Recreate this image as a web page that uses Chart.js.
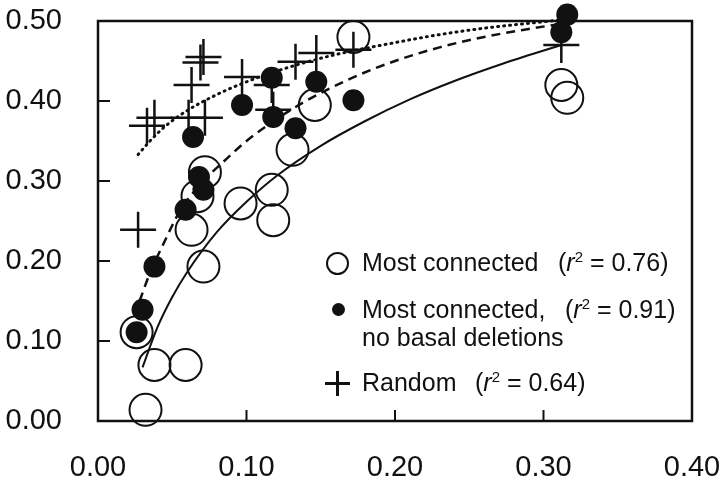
<!DOCTYPE html>
<html>
<head>
<meta charset="utf-8">
<script src="https://cdn.jsdelivr.net/npm/chart.js@4.4.1/dist/chart.umd.min.js"></script>
<style>
  html, body { margin: 0; padding: 0; background: #fff; }
  #wrap { position: relative; width: 722px; height: 487px; }
  #legend { position: absolute; left: 0; top: 0; width: 722px; height: 487px; pointer-events: none;
    font-family: "Liberation Sans", Arial, Helvetica, sans-serif; font-size: 25px; color: #111; }
  #legend .t { position: absolute; line-height: 25px; white-space: nowrap; }
  #legend i { font-style: italic; }
  #legend sup { font-size: 15px; vertical-align: 9px; line-height: 0; }
  .ic-open { position: absolute; width: 19px; height: 19px; border: 2px solid #111; border-radius: 50%; }
  .ic-dot { position: absolute; width: 13px; height: 13px; background: #111; border-radius: 50%; }
  .ic-plus-h { position: absolute; width: 25px; height: 3px; background: #111; }
  .ic-plus-v { position: absolute; width: 3px; height: 25px; background: #111; }
</style>
</head>
<body>
<div id="wrap">
  <canvas id="chart" width="722" height="487"></canvas>
  <div id="legend">
    <span class="ic-open" style="left:326px; top:252px;"></span>
    <span class="t" style="left:362px; top:250px;">Most connected</span>
    <span class="t" style="left:558px; top:250px;">(<i>r</i><sup>2</sup> = 0.76)</span>

    <span class="ic-dot" style="left:332px; top:303px;"></span>
    <span class="t" style="left:362px; top:297px;">Most connected,</span>
    <span class="t" style="left:565px; top:297px;">(<i>r</i><sup>2</sup> = 0.91)</span>
    <span class="t" style="left:362px; top:325px;">no basal deletions</span>

    <span class="ic-plus-h" style="left:325px; top:382px;"></span>
    <span class="ic-plus-v" style="left:336px; top:371px;"></span>
    <span class="t" style="left:362px; top:370px;">Random</span>
    <span class="t" style="left:475px; top:370px;">(<i>r</i><sup>2</sup> = 0.64)</span>
  </div>
</div>
<script>
// valores
const openX   = [0.032, 0.026, 0.038, 0.059, 0.071, 0.063, 0.067, 0.072, 0.096, 0.117, 0.118, 0.131, 0.146, 0.172, 0.312, 0.316];
const openY   = [0.014, 0.111, 0.070, 0.070, 0.193, 0.239, 0.281, 0.311, 0.272, 0.289, 0.251, 0.339, 0.395, 0.480, 0.420, 0.404];

const filledX = [0.026, 0.030, 0.038, 0.059, 0.068, 0.071, 0.064, 0.097, 0.117, 0.118, 0.133, 0.147, 0.172, 0.316, 0.312];
const filledY = [0.111, 0.139, 0.193, 0.264, 0.305, 0.289, 0.355, 0.395, 0.429, 0.380, 0.366, 0.424, 0.401, 0.508, 0.486];

const randX   = [0.027, 0.033, 0.038, 0.061, 0.072, 0.063, 0.069, 0.071, 0.097, 0.117, 0.118, 0.133, 0.147, 0.172, 0.312];
const randY   = [0.239, 0.369, 0.379, 0.379, 0.379, 0.420, 0.448, 0.455, 0.430, 0.420, 0.389, 0.449, 0.460, 0.464, 0.470];

// curvas de ajuste (lidas ponto a ponto)
const solidX = [0.030, 0.040, 0.050, 0.060, 0.080, 0.100, 0.120, 0.150, 0.180, 0.210, 0.240, 0.270, 0.312];
const solidY = [0.067, 0.117, 0.155, 0.186, 0.236, 0.274, 0.306, 0.344, 0.375, 0.402, 0.425, 0.445, 0.470];

const dashX = [0.028, 0.035, 0.045, 0.055, 0.070, 0.085, 0.100, 0.120, 0.140, 0.170, 0.200, 0.230, 0.260, 0.290, 0.310];
const dashY = [0.150, 0.185, 0.225, 0.262, 0.298, 0.325, 0.350, 0.377, 0.400, 0.428, 0.450, 0.467, 0.480, 0.490, 0.496];

const dotX = [0.027, 0.035, 0.045, 0.060, 0.080, 0.100, 0.130, 0.160, 0.200, 0.230, 0.260, 0.310];
const dotY = [0.333, 0.350, 0.368, 0.388, 0.408, 0.424, 0.443, 0.458, 0.473, 0.483, 0.491, 0.501];

const xTicks = [0, 0.1, 0.2, 0.3, 0.4];
const yTicks = [0, 0.1, 0.2, 0.3, 0.4, 0.5];

const pts = (xs, ys) => xs.map((x, i) => ({ x: x, y: ys[i] }));
const ink = '#111';
const fontFam = '"Liberation Sans", Arial, Helvetica, sans-serif';

function curve(xs, ys, dash, width, order) {
    return {
        data: pts(xs, ys),
        showLine: true,
        pointRadius: 0,
        borderColor: ink,
        borderWidth: width,
        borderDash: dash,
        borderCapStyle: dash.length && dash[0] < 3 ? 'round' : 'butt',
        cubicInterpolationMode: 'monotone',
        fill: false,
        order: order
    };
}

// moldura e marcas de escala para dentro
const frame = {
    id: 'frame',
    beforeDatasetsDraw(chart) {
        const { ctx, chartArea: a, scales: { x, y } } = chart;
        ctx.save();
        ctx.strokeStyle = ink;
        ctx.lineWidth = 2.5;
        ctx.strokeRect(a.left, a.top, a.right - a.left, a.bottom - a.top);
        ctx.lineWidth = 2;
        xTicks.slice(1, -1).forEach(v => {
            const px = x.getPixelForValue(v);
            ctx.beginPath(); ctx.moveTo(px, a.bottom); ctx.lineTo(px, a.bottom - 11); ctx.stroke();
        });
        yTicks.slice(1, -1).forEach(v => {
            const py = y.getPixelForValue(v);
            ctx.beginPath(); ctx.moveTo(a.left, py); ctx.lineTo(a.left + 12, py); ctx.stroke();
        });
        ctx.restore();
    }
};

// sem folga extra para os rótulos: a área do gráfico fica fixa
function noPad(s) {
    s.paddingTop = 0; s.paddingBottom = 0; s.paddingLeft = 0; s.paddingRight = 0;
}

new Chart(document.getElementById('chart').getContext('2d'), {
    type: 'scatter',
    data: {
        datasets: [
            curve(solidX, solidY, [], 2, 6),
            curve(dashX, dashY, [9, 6], 2.5, 5),
            curve(dotX, dotY, [1, 5], 3, 4),
            {
                data: pts(openX, openY), pointStyle: 'circle', pointRadius: 16,
                borderColor: ink, borderWidth: 2, backgroundColor: 'rgba(0,0,0,0)', order: 3
            },
            {
                data: pts(randX, randY), pointStyle: 'cross', pointRadius: 18,
                borderColor: ink, borderWidth: 2.5, order: 2
            },
            {
                data: pts(filledX, filledY), pointStyle: 'circle', pointRadius: 11,
                borderColor: ink, borderWidth: 0, backgroundColor: ink, order: 1
            }
        ]
    },
    options: {
        responsive: false,
        animation: false,
        clip: false,
        layout: { padding: { top: 21, right: 30, left: 0, bottom: 0 } },
        plugins: { legend: { display: false }, tooltip: { enabled: false } },
        scales: {
            x: {
                type: 'linear', min: 0, max: 0.4,
                grid: { display: false, drawTicks: false },
                border: { display: false },
                afterFit: s => { s.height = 66; noPad(s); },
                afterBuildTicks: s => { s.ticks = xTicks.map(v => ({ value: v })); },
                ticks: {
                    color: ink, padding: 30,
                    font: { family: fontFam, size: 29 },
                    callback: v => v.toFixed(2)
                }
            },
            y: {
                type: 'linear', min: 0, max: 0.5,
                grid: { display: false, drawTicks: false },
                border: { display: false },
                afterFit: s => { s.width = 98; noPad(s); },
                afterBuildTicks: s => { s.ticks = yTicks.map(v => ({ value: v })); },
                ticks: {
                    color: ink, padding: 36,
                    font: { family: fontFam, size: 29 },
                    callback: v => v.toFixed(2)
                }
            }
        }
    },
    plugins: [frame]
});
</script>
</body>
</html>
